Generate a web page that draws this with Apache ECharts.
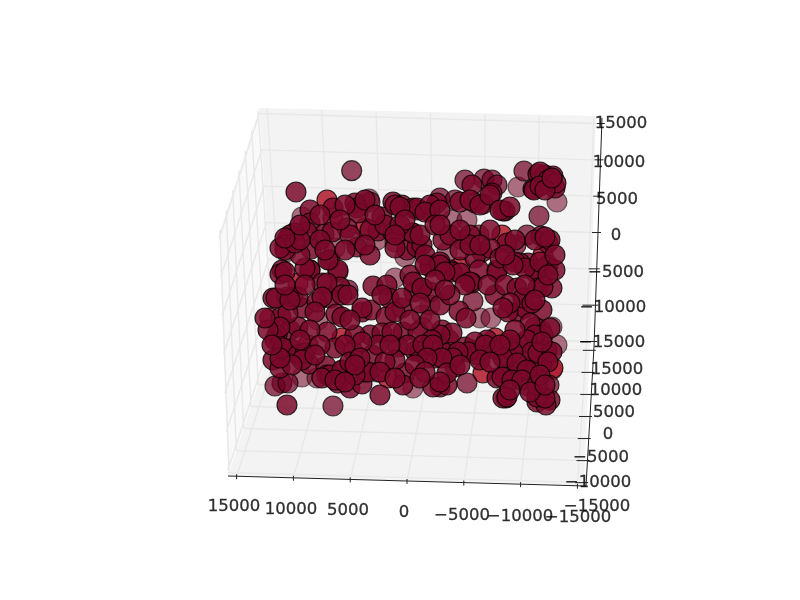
<!DOCTYPE html>
<html><head><meta charset="utf-8"><style>html,body{margin:0;background:#fff}#c{width:800px;height:600px}</style>
<script src="https://cdn.jsdelivr.net/npm/echarts@6/dist/echarts.min.js"></script></head><body><div id="c"></div>
<script>
const xTickLabels=['15000','10000','5000','0','\u22125000','\u221210000','\u221215000'];
const yTickLabels=['15000','10000','5000','0','\u22125000','\u221210000','\u221215000'];
const zTickLabels=['15000','10000','5000','0','\u22125000','\u221210000','\u221215000'];
// point positions, by shade
const farPoints=[[302,217],[286,252],[335,248],[377,240],[395,242],[405,257],[447,252],[452,220],[467,220],[557,202],[518,187],[318,320],[302,377],[317,378],[377,372],[413,388],[422,315],[395,278],[480,318],[491,318],[552,327],[552,370],[557,345],[430,305],[423,328],[369,199],[541,330]];
const midPoints=[[351.7,170.7],[524,171],[539,216],[440,198],[479,235],[473,301],[467,383],[528,386],[549,385],[333,406],[338,272],[348,290],[282,383],[275,386],[288,383],[370,202],[516,245],[465,180],[484,179],[492,180],[497,185],[492,193],[475,203],[483,204],[455,200],[527,235]];
const redPoints=[[327,200],[333,218],[365,228],[502,235],[463,240],[460,267],[543,255],[298,283],[270,318],[342,338],[308,345],[388,378],[483,373],[495,338],[507,343],[553,368]];
const nearPoints=[[296,192],[310,210],[333,208],[355,203],[357,208],[358,213],[310,223],[393,202],[402,205],[413,208],[418,210],[382,217],[347,228],[378,231],[393,233],[324,234],[332,232],[307,232],[294,233],[290,235],[287,240],[285,245],[311,249],[357,247],[412,233],[407,250],[417,247],[330,260],[310,270],[282,270],[338,270],[538,174],[545,175],[553,176],[533,189],[534,190],[555,188],[472,185],[505,211],[503,211],[437,203],[460,202],[430,212],[417,208],[443,240],[422,245],[413,233],[541,236],[548,243],[507,243],[482,252],[475,258],[490,248],[430,265],[450,270],[497,270],[528,263],[535,270],[548,265],[520,263],[280,274],[285,272],[310,270],[322,283],[328,260],[340,287],[273,298],[287,297],[293,297],[303,308],[330,298],[336,314],[281,317],[290,330],[277,335],[298,327],[327,332],[282,350],[291,349],[273,360],[280,368],[309,364],[326,366],[287,405],[338,383],[350,388],[362,384],[380,395],[344,370],[353,351],[372,355],[370,335],[362,312],[371,310],[386,317],[373,286],[387,285],[389,298],[414,292],[403,332],[415,351],[398,347],[405,373],[403,385],[365,372],[327,375],[335,348],[355,335],[382,333],[418,332],[410,275],[327,283],[305,268],[275,340],[402,308],[430,267],[452,272],[479,270],[472,283],[460,273],[497,272],[495,295],[536,273],[547,267],[538,288],[552,288],[542,310],[459,311],[466,318],[517,312],[525,308],[508,312],[535,327],[430,292],[422,288],[442,330],[449,340],[452,333],[435,358],[445,353],[455,367],[440,387],[433,387],[447,385],[505,374],[497,378],[520,372],[506,398],[537,402],[550,400],[546,405],[547,350],[522,360],[520,344],[538,358],[472,350],[482,351],[487,340],[497,350],[465,347],[475,342],[507,357],[420,352],[533,368],[542,365],
[276,298],[298,297],[288,313],[280,327],[268,330],[283,348],[298,355],[305,353],[342,295],[317,302],[322,297],[348,295],[342,317],[362,308],[382,295],[395,312],[402,298],[413,282],[422,288],[420,303],[392,332],[378,345],[362,342],[408,345],[368,372],[330,375],[342,370],[355,375],[322,378],[302,360],[292,365],[280,358],[335,380],[345,382],
[345,205],[365,200],[395,205],[400,207],[430,205],[425,212],[440,210],[470,200],[480,205],[490,195],[500,210],[510,207],[350,235],[370,230],[385,225],[400,225],[420,235],[435,225],[450,235],[470,235],[490,230],[515,240],[535,240],[550,240],[545,237],[300,255],[320,240],[345,250],[370,255],[395,248],[425,255],[440,262],[460,250],[470,245],[500,258],[515,262],[525,268],[540,262],[555,270],[555,255],[285,250],[280,248],[295,243],[300,240],[285,238],
[440,265],[425,265],[445,272],[470,282],[465,285],[488,285],[505,285],[513,265],[517,288],[523,298],[532,303],[543,287],[548,275],[510,303],[503,308],[530,323],[543,335],[535,335],[527,340],[550,328],[532,352],[538,353],[552,352],[542,342],[513,352],[503,358],[517,363],[527,370],[548,362],[477,355],[468,352],[458,352],[440,335],[432,340],[423,345],[433,345],[453,358],[442,358],[427,358],[447,373],[502,377],[512,380],[522,380],[537,397],[545,398],[440,382],[503,398],[507,397],[537,385],[540,172],[548,180],[556,183],[540,186],[545,190],[552,178],
[305,285],[315,312],[310,330],[320,345],[350,320],[345,345],[395,360],[385,362],[415,365],[425,372],[380,372],[300,340],[315,355],[265,318],[272,345],[290,300],[285,285],[350,362],[360,358],[390,345],[410,320],[430,320],[440,305],[450,295],[435,280],[445,290],[525,285],[535,300],[515,330],[510,340],[405,220],[440,225],[375,215],[340,220],[300,225],[320,215],[460,230],[480,245],[505,255],[395,235],[365,245],[325,250],[510,390],[355,365],[395,378],[420,378],[485,345],[500,345],[460,365],[480,360],[490,362],[540,375],[530,392],[545,385]];

// axes box corners on the page
const BOX={fl:[228,476],fr:[586,486],bl:[274,337],br:[594,347],tl:[259,108],tr:[602,118],fu:[219,233]};
const PANE_RIGHT={fr:[584,485],br:[590,345],tr:[596,116]};
const MARGIN=0.024;
const lerp=(a,b,t)=>[a[0]+(b[0]-a[0])*t,a[1]+(b[1]-a[1])*t];
const tick=i=>MARGIN+(1-2*MARGIN)*i/6;
const GRID='#e8e8e8',AXIS='#222';
const panes=[[BOX.fl,PANE_RIGHT.fr,PANE_RIGHT.br,BOX.bl],[BOX.bl,PANE_RIGHT.br,PANE_RIGHT.tr,BOX.tl],[BOX.fl,BOX.bl,BOX.tl,BOX.fu]];
const paneColors=['#f3f3f3','#f3f3f3','#f9f9f9'];
const zTickLeft=[5,6,6,6,8,13,14];
const gridSegs=[],axisSegs=[];
for(let i=0;i<7;i++){
  const t=tick(i);
  const a=lerp(BOX.fl,BOX.fr,t),b=lerp(BOX.bl,BOX.br,t),c=lerp(BOX.tl,BOX.tr,t);
  gridSegs.push([a,b],[b,c]);
  const d=lerp(BOX.bl,BOX.fl,t),e=lerp(BOX.br,BOX.fr,t),f=lerp(BOX.tl,BOX.fu,t);
  gridSegs.push([d,[Math.min(e[0],590),e[1]]],[d,f]);
  const g=lerp(BOX.tl,BOX.bl,t),h=lerp(BOX.tr,BOX.br,t),k=lerp(BOX.fu,BOX.fl,t);
  gridSegs.push([g,[h[0]-6,h[1]]],[g,k]);
  axisSegs.push([[a[0],a[1]-2],[a[0],a[1]+3]]);
  axisSegs.push([[e[0]-11,e[1]],[e[0]+2,e[1]]]);
  axisSegs.push([[h[0]-zTickLeft[i],h[1]],[h[0]+3,h[1]]]);
}
axisSegs.push([BOX.fl,BOX.fr],[BOX.fr,BOX.br],[BOX.br,BOX.tr]);
const labelPts=[
 ...xTickLabels.map((s,i)=>[[234,291,348,404,462,520,578][i],[507,510,511,513,516,517,518][i],s]),
 ...yTickLabels.map((s,i)=>[[617,616,614,608,601,598,597][i],[370,391,413,435,458,483,507][i],s]),
 ...zTickLabels.map((s,i)=>[[621,619,617,616,616,613,612][i],[124,163,200,236,273,308,343][i],s])
];
const segSeries=(segs,color,width,z)=>({type:'custom',coordinateSystem:'cartesian2d',silent:true,z,
 data:segs.map(s=>[s[0][0],s[0][1],s[1][0],s[1][1]]),
 encode:{x:[0,2],y:[1,3]},
 renderItem:(p,api)=>{const a=api.coord([api.value(0),api.value(1)]),b=api.coord([api.value(2),api.value(3)]);
  return {type:'line',shape:{x1:a[0],y1:a[1],x2:b[0],y2:b[1]},style:{stroke:color,lineWidth:width}};}});
const paneSeries={type:'custom',coordinateSystem:'cartesian2d',silent:true,z:1,
 data:panes.map((p,i)=>[i,...p.flat()]),encode:{x:[1,3,5,7],y:[2,4,6,8]},
 renderItem:(p,api)=>{const pts=[];for(let i=1;i<8;i+=2)pts.push(api.coord([api.value(i),api.value(i+1)]));
  return {type:'polygon',shape:{points:pts},style:{fill:paneColors[api.value(0)]}};}};
const pts=(data,fill,edge,z)=>({type:'scatter',data,symbol:'circle',symbolSize:20,z,silent:true,
 itemStyle:{color:fill,borderColor:edge,borderWidth:1.2,opacity:1}});
const option={animation:false,
 grid:{left:0,right:0,top:0,bottom:0},
 xAxis:{type:'value',min:0,max:800,show:false},
 yAxis:{type:'value',min:0,max:600,inverse:true,show:false},
 series:[paneSeries,segSeries(gridSegs,GRID,1.4,2),segSeries(axisSegs,AXIS,1,3),
  pts(farPoints,'rgba(112,0,35,0.55)','rgba(0,0,0,0.55)',5),
  pts(redPoints,'rgba(178,24,43,0.85)','rgba(0,0,0,0.8)',6),
  pts(midPoints,'rgba(112,0,35,0.72)','rgba(0,0,0,0.72)',7),
  pts(nearPoints,'rgba(122,8,42,0.85)','rgba(0,0,0,0.8)',8),
  {type:'scatter',data:labelPts,symbolSize:0,z:10,silent:true,encode:{x:0,y:1},
   label:{show:true,position:'inside',align:'center',verticalAlign:'middle',color:'#000',textBorderColor:'#000',textBorderWidth:0.3,fontFamily:'DejaVu Sans',fontSize:16.5,formatter:p=>p.value[2]}}
 ]};
echarts.init(document.getElementById('c'),null,{renderer:'canvas'}).setOption(option);
</script></body></html>
